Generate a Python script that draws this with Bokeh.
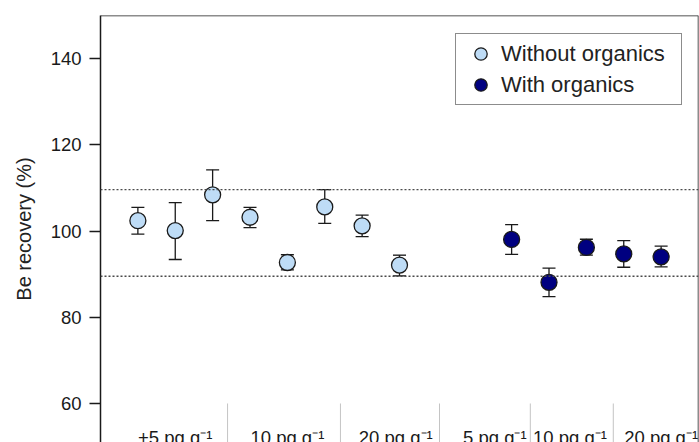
from bokeh.plotting import figure
from bokeh.models import (Range1d, Span, Whisker, TeeHead, ColumnDataSource,
                          Legend, LegendItem, FixedTicker)
from bokeh.core.properties import value
from bokeh.embed import file_html
from bokeh.resources import INLINE

# ---------------- data ----------------
light_x = [1, 2, 3, 4, 5, 6, 7, 8]
light_y = [102.4, 100.1, 108.4, 103.2, 92.7, 105.6, 101.2, 92.1]
light_upper = [105.5, 106.6, 114.2, 105.5, 94.5, 109.6, 103.7, 94.4]
light_lower = [99.3, 93.4, 102.4, 100.8, 91.0, 101.8, 98.7, 89.6]

dark_x = [11, 12, 13, 14, 15]
dark_y = [98.05, 88.1, 96.2, 94.7, 94.0]
dark_upper = [101.5, 91.4, 98.1, 97.8, 96.5]
dark_lower = [94.6, 84.8, 94.4, 91.6, 91.7]

ref_lines = [109.6, 89.5]
y_ticks = [60, 80, 100, 120, 140]

group_labels = ["+5 pg g\u207b\u00b9", "10 pg g\u207b\u00b9", "20 pg g\u207b\u00b9",
                "5 pg g\u207b\u00b9", "10 pg g\u207b\u00b9", "20 pg g\u207b\u00b9"]
group_label_x = [2, 5, 7.9, 10.55, 12.56, 15]
separator_x = [3.4, 6.42, 9.07, 11.5, 13.72]

FONT = "Liberation Sans"
LIGHT = "#bedcf6"
DARK = "#000080"
INK = "#1a1a1a"

p = figure(width=699, height=442, output_backend="svg", toolbar_location=None,
           x_range=Range1d(0, 16), y_range=Range1d(50.95, 150),
           x_axis_location=None,
           min_border_left=100, min_border_top=15, min_border_right=1, min_border_bottom=0)
p.grid.grid_line_color = None
p.outline_line_color = None
p.background_fill_color = "white"
p.border_fill_color = "white"

# y axis
ax = p.yaxis[0]
ax.ticker = FixedTicker(ticks=y_ticks)
ax.axis_line_color = INK
ax.axis_line_width = 1.5
ax.major_tick_line_color = INK
ax.major_tick_line_width = 1.5
ax.major_tick_out = 11
ax.major_tick_in = 0
ax.minor_tick_out = 0
ax.minor_tick_in = 0
ax.major_label_standoff = 8
ax.major_label_text_font = FONT
ax.major_label_text_font_size = "18.5px"
ax.major_label_text_color = INK
ax.axis_label = "Be recovery (%)"
ax.axis_label_text_font = FONT
ax.axis_label_text_font_size = "20px"
ax.axis_label_text_font_style = "normal"
ax.axis_label_text_color = "#222222"
ax.axis_label_standoff = 13

# frame borders (top and right)
p.add_layout(Span(location=150, dimension="width", line_color=INK, line_width=1.5))
p.add_layout(Span(location=16, dimension="height", line_color=INK, line_width=1.5))

# reference dotted lines
for v in ref_lines:
    p.add_layout(Span(location=v, dimension="width", line_color="#4a4a4a",
                      line_width=1.4, line_dash="2 2"))

# group separators
p.segment(x0=separator_x, x1=separator_x, y0=[60] * len(separator_x),
          y1=[40] * len(separator_x), line_color="#c4c4c4", line_width=1)

# group labels
p.text(x=group_label_x, y=[52] * len(group_label_x), text=group_labels,
       text_font=value(FONT), text_font_size="18.5px", text_color=INK,
       text_align="center", text_baseline="alphabetic", y_offset=0)

# error bars
src_l = ColumnDataSource(dict(x=light_x, y=light_y, upper=light_upper, lower=light_lower))
src_d = ColumnDataSource(dict(x=dark_x, y=dark_y, upper=dark_upper, lower=dark_lower))
for src in (src_l, src_d):
    w = Whisker(source=src, base="x", upper="upper", lower="lower", dimension="height",
                line_color=INK, line_width=1.3, level="underlay",
                upper_head=TeeHead(size=13, line_color=INK, line_width=1.3),
                lower_head=TeeHead(size=13, line_color=INK, line_width=1.3))
    p.add_layout(w)

r_light = p.scatter("x", "y", source=src_l, size=16, fill_color=LIGHT,
                    line_color=INK, line_width=1.3)
r_dark = p.scatter("x", "y", source=src_d, size=16, fill_color=DARK,
                   line_color=INK, line_width=1.3)

legend = Legend(items=[LegendItem(label="Without organics", renderers=[r_light]),
                       LegendItem(label="With organics", renderers=[r_dark])],
                location=(355, 337), padding=4, spacing=0,
                glyph_height=31, glyph_width=41, label_standoff=0, label_width=176,
                label_height=31,
                label_text_font=FONT, label_text_font_size="22px",
                label_text_color="#222222",
                border_line_color=INK, border_line_width=1.3,
                background_fill_color="white", background_fill_alpha=1.0)
p.add_layout(legend)

open("out.html", "w").write(file_html(p, INLINE))
